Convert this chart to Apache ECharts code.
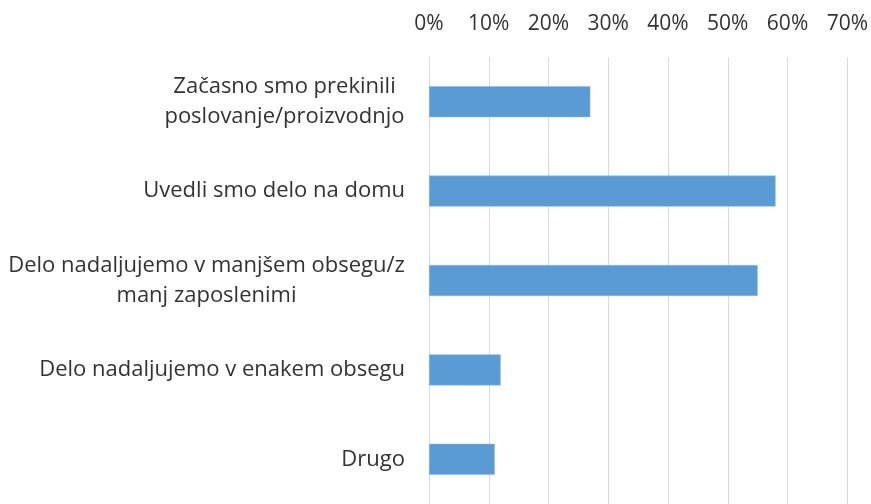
<!DOCTYPE html>
<html>
<head>
    <meta charset="UTF-8">
    <title>ukrepi</title>
    <style>
        html, body { margin: 0; padding: 0; background: #fff; }
    </style>
</head>
<body>

<script src="https://cdn.jsdelivr.net/npm/echarts@6/dist/echarts.min.js"></script>

<div id="chartDom" style="width: 871px;height:504px;"></div>

<script type="text/javascript">
    // podatki
    var categories = [
        'Začasno smo prekinili\nposlovanje/proizvodnjo',
        'Uvedli smo delo na domu',
        'Delo nadaljujemo v manjšem obsegu/z\nmanj zaposlenimi',
        'Delo nadaljujemo v enakem obsegu',
        'Drugo'
    ];
    var values = [27, 58, 55, 12, 11];
    var tickMax = 70;

    var myChart = echarts.init(document.getElementById('chartDom'));

    var font = '"Open Sans", "Noto Sans", sans-serif';
    var labelSize = 22;

    // vrstice v večvrstičnih oznakah so sredinsko poravnane (kot v Excelu)
    var ctx = document.createElement('canvas').getContext('2d');
    ctx.font = labelSize + 'px ' + font;
    var rich = {};
    var labelKeys = {};
    categories.forEach(function (c, i) {
        var lines = c.split('\n');
        if (lines.length > 1) {
            var w = Math.max.apply(null, lines.map(function (l) { return ctx.measureText(l).width; }));
            rich['m' + i] = { width: Math.ceil(w), align: 'center', lineHeight: 30,
                fontSize: labelSize, fontFamily: font, color: '#333333' };
            labelKeys[c] = 'm' + i;
        }
    });

    var option = {
        animation: false,
        grid: {
            left: 429,
            right: 22,
            top: 57,
            height: 453
        },
        xAxis: {
            type: 'value',
            position: 'top',
            min: 0,
            max: tickMax,
            interval: 10,
            axisLine: { show: false },
            axisTick: { show: false },
            axisLabel: {
                formatter: '{value}%',
                color: '#333333',
                fontFamily: font,
                fontSize: 21,
                margin: 22
            },
            splitLine: {
                lineStyle: { color: '#d9d9d9', width: 1 }
            }
        },
        yAxis: {
            type: 'category',
            inverse: true,
            data: categories,
            axisLine: { show: true, lineStyle: { color: '#d9d9d9' } },
            axisTick: { show: false },
            axisLabel: {
                color: '#333333',
                fontFamily: font,
                fontSize: labelSize,
                lineHeight: 30,
                align: 'right',
                margin: 24,
                rich: rich,
                formatter: function (v) {
                    var k = labelKeys[v];
                    if (!k) return v;
                    return v.split('\n').map(function (l) { return '{' + k + '|' + l + '}'; }).join('\n');
                }
            }
        },
        series: [{
            type: 'bar',
            data: values,
            barWidth: 31,
            itemStyle: {
                color: '#5b9bd5',
                borderColor: '#8fbbe3',
                borderWidth: 0.5
            }
        }]
    };

    myChart.setOption(option);
</script>
</body>
</html>
